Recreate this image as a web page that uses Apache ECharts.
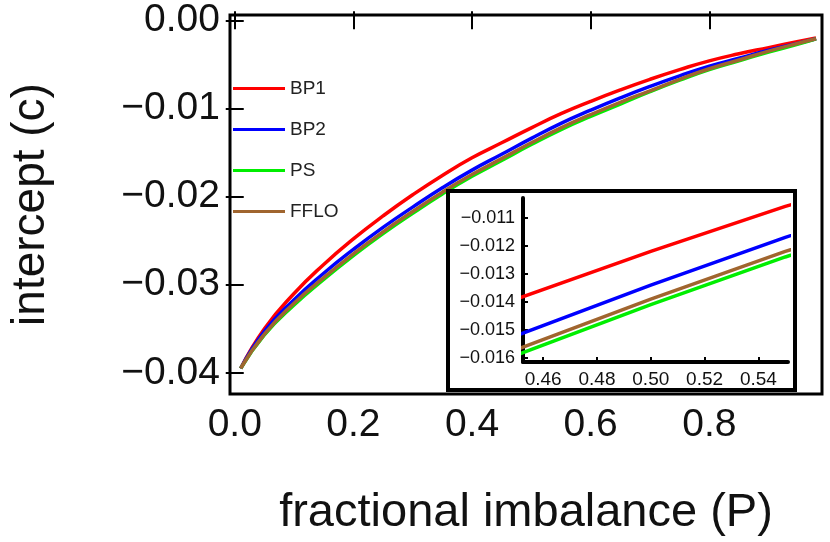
<!DOCTYPE html>
<html lang="en">
<head>
    <meta charset="UTF-8">
    <title>intercept vs fractional imbalance</title>
    <style type="text/css">
        html, body { margin: 0; padding: 0; background: #fff; }
        #box { width: 830px; height: 542px; }
    </style>
</head>
<body>
<div id="box"></div>
<script type="text/javascript" src="https://cdn.jsdelivr.net/npm/echarts@6/dist/echarts.min.js"></script>
<script type="text/javascript">
    // fractional imbalance P
    const pValues = [0.01, 0.05, 0.1, 0.15, 0.2, 0.25, 0.3, 0.35, 0.4, 0.45, 0.5, 0.55, 0.6, 0.65, 0.7, 0.75, 0.8, 0.85, 0.9, 0.95, 0.98];
    const bp1 = [-0.0395, -0.0350, -0.0310, -0.0277, -0.0248, -0.0222, -0.0198, -0.0176, -0.0156, -0.0139, -0.0122, -0.0106, -0.0092, -0.0079, -0.0067, -0.0056, -0.0046, -0.0038, -0.0031, -0.0024, -0.0020];
    const bp2 = [-0.0395, -0.0353, -0.0317, -0.0287, -0.0260, -0.0235, -0.0212, -0.0190, -0.0170, -0.0152, -0.0134, -0.0117, -0.0102, -0.0088, -0.0075, -0.0063, -0.0052, -0.0043, -0.0034, -0.0026, -0.0021];
    const ps = [-0.0395, -0.0357, -0.0323, -0.0294, -0.0267, -0.0242, -0.0219, -0.0197, -0.0177, -0.0159, -0.0141, -0.0124, -0.0109, -0.0095, -0.0081, -0.0068, -0.0056, -0.0046, -0.0036, -0.0027, -0.0021];
    const fflo = [-0.0395, -0.0356, -0.0321, -0.0292, -0.0265, -0.0240, -0.0217, -0.0195, -0.0175, -0.0157, -0.0139, -0.0122, -0.0107, -0.0093, -0.0080, -0.0067, -0.0055, -0.0045, -0.0035, -0.0026, -0.0021];
    const names = ['BP1', 'BP2', 'PS', 'FFLO'];
    const colors = ['#ff0000', '#0000ff', '#00ee00', '#a0652f'];
    const xTicks = [0.0, 0.2, 0.4, 0.6, 0.8];
    const yTicks = [-0.04, -0.03, -0.02, -0.01, 0.0];
    const insetXTicks = [0.46, 0.48, 0.50, 0.52, 0.54];
    const insetYTicks = [-0.016, -0.015, -0.014, -0.013, -0.012, -0.011];

    const font = 'Liberation Sans, Arial, sans-serif';
    const allSeries = [bp1, bp2, ps, fflo];

    function pairs(ys) {
        return pValues.map((p, i) => [p, ys[i]]);
    }

    let myChart = echarts.init(document.getElementById('box'));

    let series = [];
    allSeries.forEach((ys, i) => {
        series.push({
            name: names[i], type: 'line', xAxisIndex: 0, yAxisIndex: 0,
            data: pairs(ys), smooth: 0.5, showSymbol: false, z: 2,
            lineStyle: {color: colors[i], width: 3.5}, itemStyle: {color: colors[i]}
        });
    });
    allSeries.forEach((ys, i) => {
        series.push({
            name: names[i] + ' inset', type: 'line', xAxisIndex: 2, yAxisIndex: 2,
            data: pairs(ys), showSymbol: false, z: 12, clip: true,
            lineStyle: {color: colors[i], width: 3.5}, itemStyle: {color: colors[i]},
            markLine: i === 0 ? {
                silent: true, symbol: 'none', label: {show: false},
                lineStyle: {color: '#bbbbbb', width: 1, type: 'solid'},
                data: [{yAxis: -0.0138}]
            } : undefined
        });
    });

    const mainX = {min: -0.008, max: 0.99};
    const mainY = {min: -0.0424, max: 0.0006};

    let option = {
        animation: false,
        backgroundColor: '#fff',
        textStyle: {fontFamily: font},
        grid: [
            {left: 207, right: 8, top: 15, bottom: 137, show: true, borderColor: '#000', borderWidth: 3},
            {left: 523, right: 42, top: 198, bottom: 180}
        ],
        legend: {
            data: names, orient: 'vertical', left: 228, top: 74, itemGap: 22,
            itemWidth: 52, itemHeight: 3, icon: 'rect',
            textStyle: {fontSize: 19, color: '#222', fontFamily: font}
        },
        graphic: [{
            type: 'rect', z: 8,
            shape: {x: 448, y: 191, width: 347, height: 199},
            style: {fill: '#fff', stroke: '#000', lineWidth: 4}
        }],
        xAxis: [
            {
                type: 'value', gridIndex: 0, min: mainX.min, max: mainX.max,
                name: 'fractional imbalance (P)', nameLocation: 'middle', nameGap: 96,
                nameTextStyle: {fontSize: 47, color: '#111'},
                axisLine: {show: false}, splitLine: {show: false},
                axisTick: {inside: true, length: 9, lineStyle: {color: '#000', width: 2}, customValues: xTicks},
                axisLabel: {fontSize: 39, color: '#111', margin: 12, customValues: xTicks, formatter: v => v.toFixed(1)}
            },
            {
                type: 'value', gridIndex: 0, position: 'top', min: mainX.min, max: mainX.max,
                axisLine: {show: false}, splitLine: {show: false}, axisLabel: {show: false},
                axisTick: {inside: true, length: 9, lineStyle: {color: '#000', width: 2}, customValues: xTicks}
            },
            {
                type: 'value', gridIndex: 1, min: 0.4525, max: 0.551, z: 12,
                axisLine: {show: true, onZero: false, lineStyle: {color: '#000', width: 4}},
                splitLine: {show: false},
                axisTick: {inside: true, length: 5, lineStyle: {color: '#000', width: 2}, customValues: insetXTicks},
                axisLabel: {fontSize: 19, color: '#111', margin: 8, customValues: insetXTicks, formatter: v => v.toFixed(2)}
            }
        ],
        yAxis: [
            {
                type: 'value', gridIndex: 0, min: mainY.min, max: mainY.max,
                name: 'intercept (c)', nameLocation: 'middle', nameGap: 176, nameRotate: 90,
                nameTextStyle: {fontSize: 46, color: '#111'},
                axisLine: {show: false}, splitLine: {show: false},
                axisTick: {inside: true, length: 9, lineStyle: {color: '#000', width: 2}, customValues: yTicks},
                axisLabel: {fontSize: 39, color: '#111', margin: 10, customValues: yTicks,
                    formatter: v => (v < 0 ? '\u2212' : '') + Math.abs(v).toFixed(2)}
            },
            {
                type: 'value', gridIndex: 0, position: 'right', min: mainY.min, max: mainY.max,
                axisLine: {show: false}, splitLine: {show: false}, axisLabel: {show: false},
                axisTick: {inside: true, length: 9, lineStyle: {color: '#000', width: 2}, customValues: yTicks}
            },
            {
                type: 'value', gridIndex: 1, min: -0.01614, max: -0.01030, z: 12,
                axisLine: {show: true, onZero: false, lineStyle: {color: '#000', width: 4}},
                splitLine: {show: false},
                axisTick: {inside: true, length: 5, lineStyle: {color: '#000', width: 2}, customValues: insetYTicks},
                axisLabel: {fontSize: 18, color: '#111', margin: 8, customValues: insetYTicks,
                    formatter: v => (v < 0 ? '\u2212' : '') + Math.abs(v).toFixed(3)}
            }
        ],
        series: series
    };
    myChart.setOption(option);
</script>
</body>
</html>
